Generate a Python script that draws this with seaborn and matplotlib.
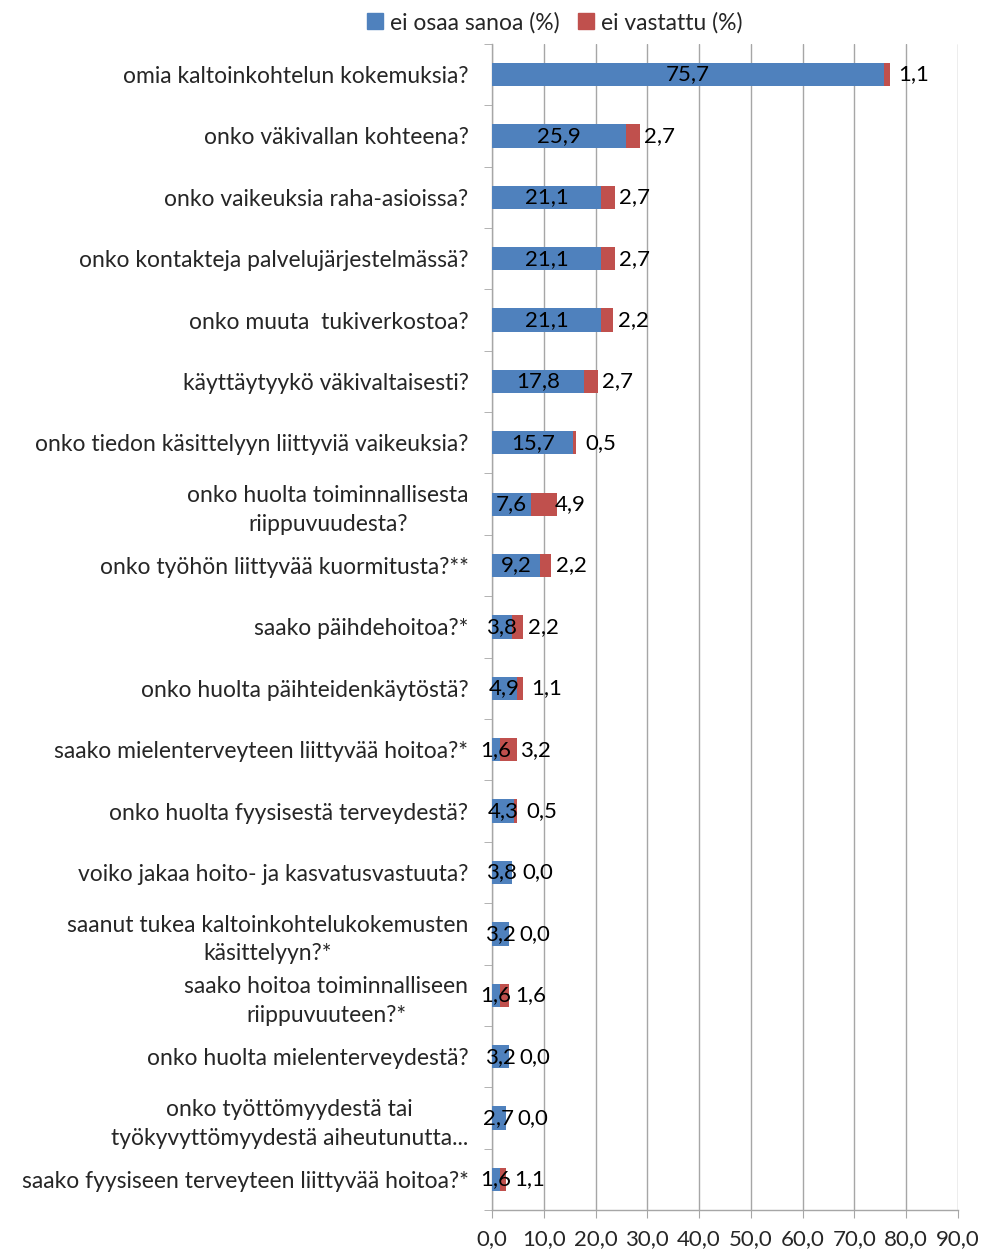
import pandas as pd
import numpy as np
import seaborn as sns
import matplotlib.pyplot as plt
from matplotlib.ticker import FixedLocator, FuncFormatter
from matplotlib.patches import Patch

categories = [
    "omia kaltoinkohtelun kokemuksia?",
    "onko väkivallan kohteena?",
    "onko vaikeuksia raha-asioissa?",
    "onko kontakteja palvelujärjestelmässä?",
    "onko muuta  tukiverkostoa?",
    "käyttäytyykö väkivaltaisesti?",
    "onko tiedon käsittelyyn liittyviä vaikeuksia?",
    "onko huolta toiminnallisesta\nriippuvuudesta?",
    "onko työhön liittyvää kuormitusta?**",
    "saako päihdehoitoa?*",
    "onko huolta päihteidenkäytöstä?",
    "saako mielenterveyteen liittyvää hoitoa?*",
    "onko huolta fyysisestä terveydestä?",
    "voiko jakaa hoito- ja kasvatusvastuuta?",
    "saanut tukea kaltoinkohtelukokemusten\nkäsittelyyn?*",
    "saako hoitoa toiminnalliseen\nriippuvuuteen?*",
    "onko huolta mielenterveydestä?",
    "onko työttömyydestä tai\ntyökyvyttömyydestä aiheutunutta...",
    "saako fyysiseen terveyteen liittyvää hoitoa?*",
]
ei_osaa_sanoa = [75.7, 25.9, 21.1, 21.1, 21.1, 17.8, 15.7, 7.6, 9.2, 3.8,
                 4.9, 1.6, 4.3, 3.8, 3.2, 1.6, 3.2, 2.7, 1.6]
ei_vastattu = [1.1, 2.7, 2.7, 2.7, 2.2, 2.7, 0.5, 4.9, 2.2, 2.2,
               1.1, 3.2, 0.5, 0.0, 0.0, 1.6, 0.0, 0.0, 1.1]
x_ticks = [0, 10, 20, 30, 40, 50, 60, 70, 80, 90]

BLUE = "#4F81BD"
RED = "#C0504D"
GRID = "#A6A6A6"
FS = 16
FS_CAT = 16.5

df = pd.DataFrame({
    "kysymys": categories,
    "eos": ei_osaa_sanoa,
    "ev": ei_vastattu,
})
df["total"] = df["eos"] + df["ev"]

sns.set_style("white")
plt.rcParams["font.family"] = ["Lato", "DejaVu Sans"]

fig = plt.figure(figsize=(9.84, 12.52), dpi=100)
ax = fig.add_axes([0.5, 0.0335, 0.4736, 0.9315])

sns.barplot(data=df, x="total", y="kysymys", color=RED, width=0.38,
            saturation=1, ax=ax, orient="h", linewidth=0, zorder=3)
sns.barplot(data=df, x="eos", y="kysymys", color=BLUE, width=0.38,
            saturation=1, ax=ax, orient="h", linewidth=0, zorder=3)

# value labels
for i, (b, r) in enumerate(zip(df["eos"], df["ev"])):
    ax.text(b / 2, i, f"{b:.1f}".replace(".", ","), ha="center", va="center",
            fontsize=FS, color="black", zorder=5)
    ax.annotate(f"{r:.1f}".replace(".", ","), xy=(b + r / 2, i),
                xytext=(19, 0), textcoords="offset points",
                ha="center", va="center", fontsize=FS, color="black", zorder=5)

ax.set_xlim(0, 90)
ax.set_ylim(len(categories) - 0.5, -0.5)
ax.xaxis.set_major_locator(FixedLocator(x_ticks))
ax.xaxis.set_major_formatter(FuncFormatter(lambda v, p: f"{v:.1f}".replace(".", ",")))
ax.grid(axis="x", color=GRID, linewidth=1, zorder=0)
ax.set_axisbelow(True)

ax.yaxis.set_minor_locator(FixedLocator(np.arange(-0.5, len(categories), 1)))
ax.tick_params(axis="y", which="major", length=0, pad=17, labelsize=FS_CAT)
ax.tick_params(axis="y", which="minor", length=6, color=GRID, direction="out", left=True)
ax.tick_params(axis="x", which="major", length=6, color=GRID, direction="out",
               bottom=True, pad=8, labelsize=FS)
for lab in ax.get_yticklabels():
    lab.set_multialignment("center")
    lab.set_linespacing(1.45)

ax.set_xlabel("")
ax.set_ylabel("")
for side in ["top", "right"]:
    ax.spines[side].set_visible(False)
for side in ["left", "bottom"]:
    ax.spines[side].set_color(GRID)
    ax.spines[side].set_linewidth(1)

handles = [Patch(color=BLUE, label="ei osaa sanoa (%)"),
           Patch(color=RED, label="ei vastattu (%)")]
fig.legend(handles=handles, loc="center", bbox_to_anchor=(0.564, 0.982), ncol=2,
           frameon=False, fontsize=FS_CAT, handlelength=0.7, handleheight=0.7,
           handletextpad=0.3, columnspacing=0.8)

plt.savefig("out.png", dpi=100)
plt.close()
